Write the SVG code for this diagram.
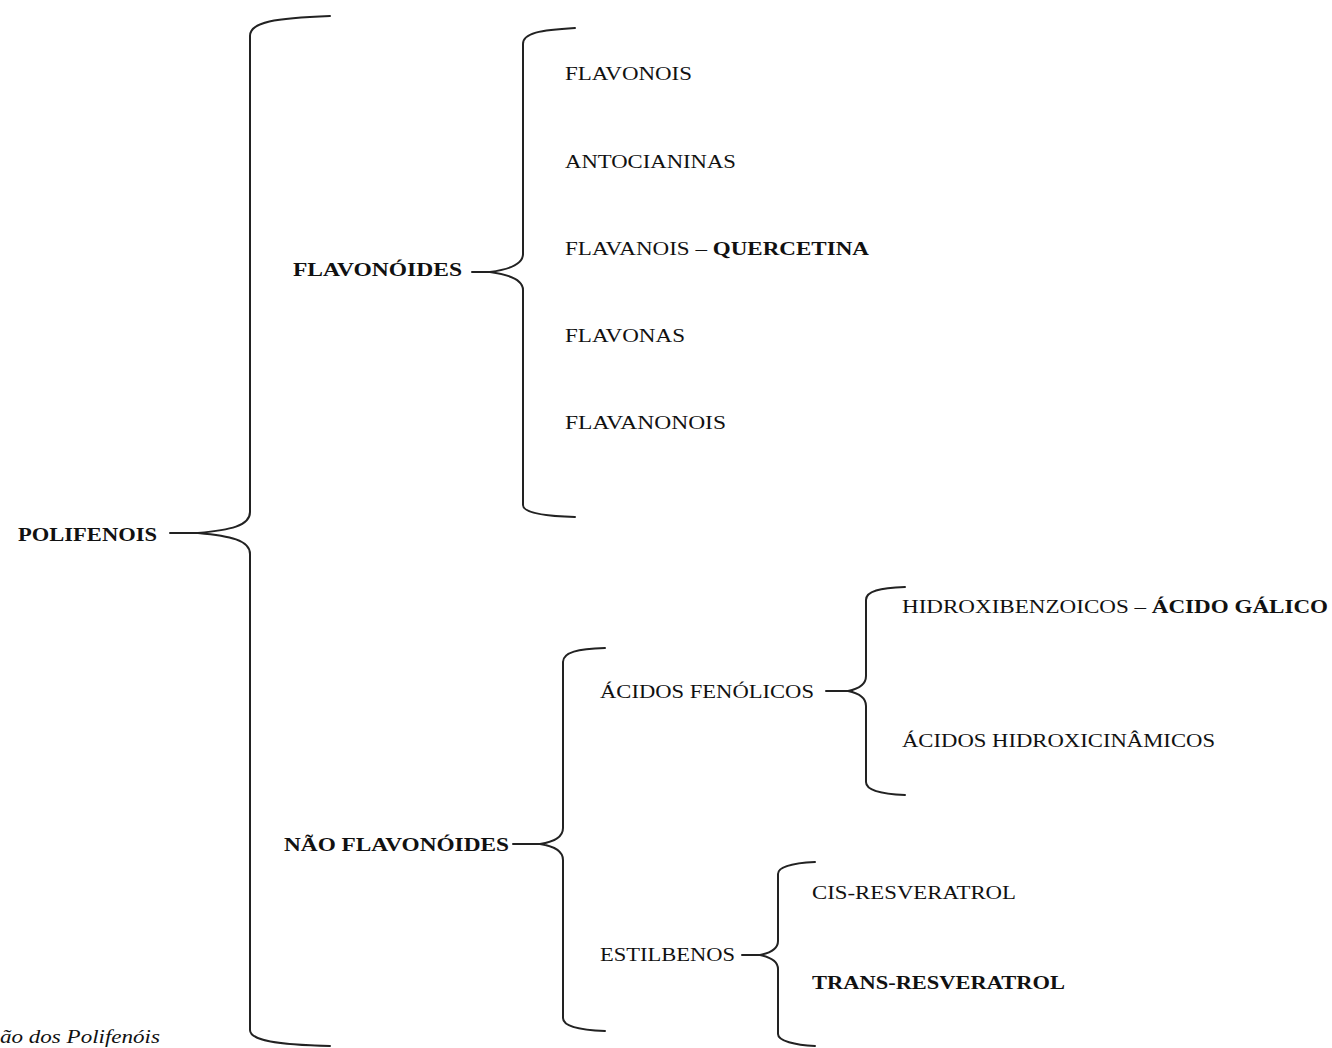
<svg xmlns="http://www.w3.org/2000/svg" width="1332" height="1048" viewBox="0 0 1332 1048">
<style>
.t{font-family:"Liberation Serif","Times New Roman",serif;font-size:19px;fill:#111}
.b{font-weight:bold}
.c{fill:none;stroke:#222;stroke-width:2;stroke-linecap:round}
</style>
<rect width="1332" height="1048" fill="#fff"/>
<g id="connectors">
<path class="c" d="M330 16 C275 18 250 22 250 36 L250 512 C250 526 230 530 198 533 C230 536 250 540 250 554 L250 1030 C250 1040 275 1045 330 1046"/>
<path class="c" d="M170 533 L198 533"/>
<path class="c" d="M575 28 C540 30 523 33 523 44 L523 254 C523 266 505 270 490 272 C505 274 523 278 523 290 L523 505 C523 512 540 516 575 517"/>
<path class="c" d="M472 272 L490 272"/>
<path class="c" d="M605 648 C578 649 563 652 563 662 L563 828 C563 838 553 842 540 844 C553 846 563 850 563 860 L563 1018 C563 1026 578 1030 605 1031"/>
<path class="c" d="M513 844 L540 844"/>
<path class="c" d="M905 587 C880 588 866 591 866 600 L866 676 C866 685 858 689 848 691 C858 693 866 697 866 706 L866 782 C866 790 880 794 905 795"/>
<path class="c" d="M826 691 L848 691"/>
<path class="c" d="M815 862 C795 863 778 866 778 874 L778 941 C778 949 770 953 760 955 C770 957 778 961 778 969 L778 1034 C778 1041 795 1045 815 1046"/>
<path class="c" d="M742 955 L760 955"/>
</g>
<g id="polifenois"><text class="t b" x="18" y="541" textLength="139" lengthAdjust="spacingAndGlyphs">POLIFENOIS</text></g>
<g id="flavonoides"><text class="t b" x="293" y="276" textLength="169" lengthAdjust="spacingAndGlyphs">FLAVONÓIDES</text></g>
<g id="flavonois"><text class="t" x="565" y="80" textLength="127" lengthAdjust="spacingAndGlyphs">FLAVONOIS</text></g>
<g id="antocianinas"><text class="t" x="565" y="168" textLength="171" lengthAdjust="spacingAndGlyphs">ANTOCIANINAS</text></g>
<g id="flavanois"><text class="t" x="565" y="255" textLength="304" lengthAdjust="spacingAndGlyphs">FLAVANOIS – <tspan class="b">QUERCETINA</tspan></text></g>
<g id="flavonas"><text class="t" x="565" y="342" textLength="120" lengthAdjust="spacingAndGlyphs">FLAVONAS</text></g>
<g id="flavanonois"><text class="t" x="565" y="429" textLength="161" lengthAdjust="spacingAndGlyphs">FLAVANONOIS</text></g>
<g id="nao-flavonoides"><text class="t b" x="284" y="851" textLength="225" lengthAdjust="spacingAndGlyphs">NÃO FLAVONÓIDES</text></g>
<g id="acidos-fenolicos"><text class="t" x="600" y="698" textLength="214" lengthAdjust="spacingAndGlyphs">ÁCIDOS FENÓLICOS</text></g>
<g id="hidroxibenzoicos"><text class="t" x="902" y="613" textLength="426" lengthAdjust="spacingAndGlyphs">HIDROXIBENZOICOS – <tspan class="b">ÁCIDO GÁLICO</tspan></text></g>
<g id="hidroxicinamicos"><text class="t" x="902" y="747" textLength="313" lengthAdjust="spacingAndGlyphs">ÁCIDOS HIDROXICINÂMICOS</text></g>
<g id="estilbenos"><text class="t" x="600" y="961" textLength="135" lengthAdjust="spacingAndGlyphs">ESTILBENOS</text></g>
<g id="cis-resveratrol"><text class="t" x="812" y="899" textLength="204" lengthAdjust="spacingAndGlyphs">CIS-RESVERATROL</text></g>
<g id="trans-resveratrol"><text class="t b" x="812" y="989" textLength="253" lengthAdjust="spacingAndGlyphs">TRANS-RESVERATROL</text></g>
<g id="caption"><text class="t" x="0" y="1043" font-style="italic" font-size="16" textLength="160" lengthAdjust="spacingAndGlyphs">ão dos Polifenóis</text></g>
</svg>
